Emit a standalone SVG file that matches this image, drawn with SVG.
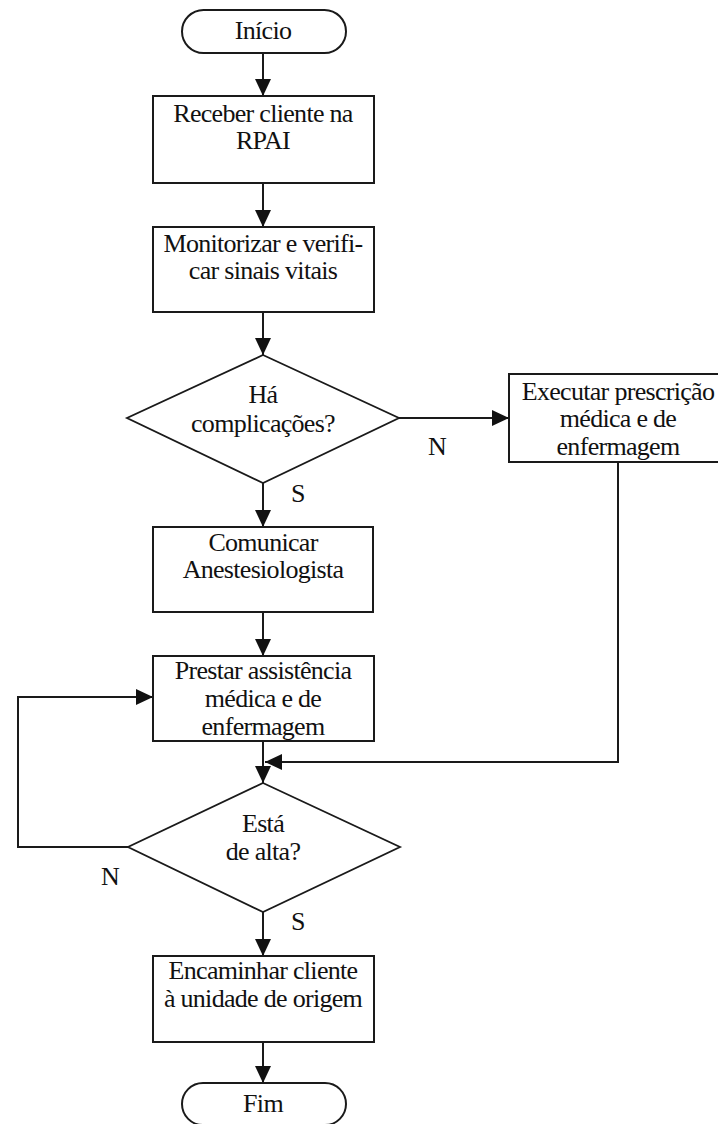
<svg xmlns="http://www.w3.org/2000/svg" width="718" height="1124" viewBox="0 0 718 1124">
<style>
.box{fill:#fff;stroke:#1a1a1a;stroke-width:2}
.dia{fill:#fff;stroke:#1a1a1a;stroke-width:1.8}
.t{font-family:"Liberation Serif","Times New Roman",serif;font-size:26px;letter-spacing:-0.7px;fill:#111;text-anchor:middle}
.c{fill:none;stroke:#1a1a1a;stroke-width:2}
</style>
<defs>
<marker id="ah" markerUnits="userSpaceOnUse" markerWidth="17" markerHeight="16" refX="17" refY="8" orient="auto">
<path d="M0,0 L17,8 L0,16 z" fill="#111"/>
</marker>
</defs>
<rect width="718" height="1124" fill="#fff"/>
<g id="connectors">
<line class="c" x1="263" y1="53" x2="263" y2="96" marker-end="url(#ah)"/>
<line class="c" x1="263" y1="183" x2="263" y2="227" marker-end="url(#ah)"/>
<line class="c" x1="263" y1="312" x2="263" y2="355" marker-end="url(#ah)"/>
<line class="c" x1="399" y1="418" x2="509" y2="418" marker-end="url(#ah)"/>
<line class="c" x1="263" y1="483" x2="263" y2="527" marker-end="url(#ah)"/>
<line class="c" x1="263" y1="612" x2="263" y2="656" marker-end="url(#ah)"/>
<line class="c" x1="263" y1="741" x2="263" y2="783" marker-end="url(#ah)"/>
<polyline class="c" points="618,462 618,762 265,762" marker-end="url(#ah)"/>
<polyline class="c" points="128,847 18,847 18,697 153,697" marker-end="url(#ah)"/>
<line class="c" x1="263" y1="912" x2="263" y2="956" marker-end="url(#ah)"/>
<line class="c" x1="263" y1="1042" x2="263" y2="1083" marker-end="url(#ah)"/>
<text class="t" x="437" y="455">N</text>
<text class="t" x="298" y="502">S</text>
<text class="t" x="110" y="885">N</text>
<text class="t" x="298" y="930">S</text>
</g>
<g id="inicio">
<rect class="box" x="182" y="10" width="164" height="43" rx="21.5"/>
<text class="t" x="263" y="39">Início</text>
</g>
<g id="receber">
<rect class="box" x="153" y="96" width="221" height="87"/>
<text class="t" x="263" y="122">Receber cliente na</text>
<text class="t" x="263" y="149">RPAI</text>
</g>
<g id="monitorizar">
<rect class="box" x="153" y="227" width="221" height="85"/>
<text class="t" x="263" y="252">Monitorizar e verifi-</text>
<text class="t" x="263" y="279">car sinais vitais</text>
</g>
<g id="complicacoes">
<polygon class="dia" points="263,355 399,418 263,483 127,418"/>
<text class="t" x="263" y="403">Há</text>
<text class="t" x="263" y="432">complicações?</text>
</g>
<g id="executar">
<rect class="box" x="509" y="374" width="212" height="88"/>
<text class="t" x="618" y="400">Executar prescrição</text>
<text class="t" x="618" y="427">médica e de</text>
<text class="t" x="618" y="455">enfermagem</text>
</g>
<g id="comunicar">
<rect class="box" x="153" y="527" width="220" height="85"/>
<text class="t" x="263" y="551">Comunicar</text>
<text class="t" x="263" y="578">Anestesiologista</text>
</g>
<g id="prestar">
<rect class="box" x="153" y="656" width="221" height="85"/>
<text class="t" x="263" y="679">Prestar assistência</text>
<text class="t" x="263" y="707">médica e de</text>
<text class="t" x="263" y="735">enfermagem</text>
</g>
<g id="alta">
<polygon class="dia" points="263,783 400,847 263,912 128,847"/>
<text class="t" x="263" y="832">Está</text>
<text class="t" x="263" y="860">de alta?</text>
</g>
<g id="encaminhar">
<rect class="box" x="153" y="956" width="221" height="86"/>
<text class="t" x="263" y="979">Encaminhar cliente</text>
<text class="t" x="263" y="1007">à unidade de origem</text>
</g>
<g id="fim">
<rect class="box" x="182" y="1083" width="164" height="42" rx="21"/>
<text class="t" x="263" y="1112">Fim</text>
</g>
</svg>
